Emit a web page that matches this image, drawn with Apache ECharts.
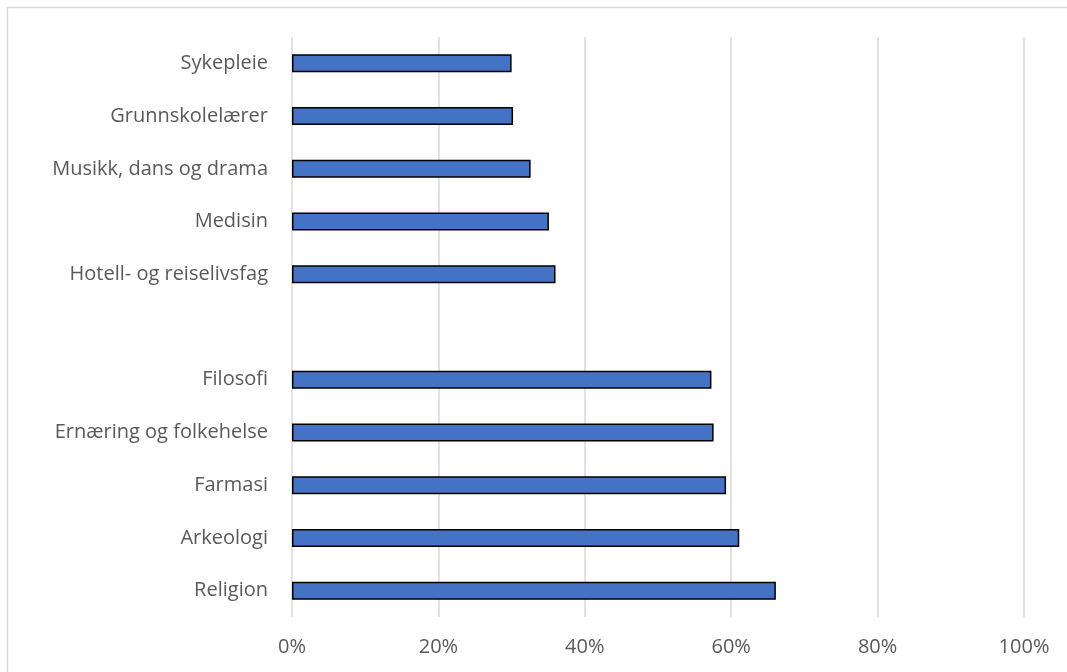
<!DOCTYPE html>
<html>
<head>
<meta charset="utf-8">
<script src="https://cdn.jsdelivr.net/npm/echarts@6/dist/echarts.min.js"></script>
<style>
  html, body { margin: 0; padding: 0; background: #fff; }
  #chart { width: 1067px; height: 672px; }
</style>
</head>
<body>
<div id="chart"></div>
<script>
// Categories top to bottom (blank row separates the two groups)
const categories = [
  'Sykepleie',
  'Grunnskolelærer',
  'Musikk, dans og drama',
  'Medisin',
  'Hotell- og reiselivsfag',
  '',
  'Filosofi',
  'Ernæring og folkehelse',
  'Farmasi',
  'Arkeologi',
  'Religion'
];
// Share (fraction), null for the blank separator row
const values = [0.300, 0.302, 0.326, 0.351, 0.360, null, 0.573, 0.576, 0.593, 0.611, 0.661];
const tickMin = 0, tickMax = 1, tickStep = 0.2;

const chart = echarts.init(document.getElementById('chart'), null, { renderer: 'canvas' });
const font = '"Open Sans", Lato, sans-serif';
chart.setOption({
  animation: false,
  backgroundColor: '#ffffff',
  graphic: [{
    type: 'rect',
    shape: { x: 7.5, y: 7.5, width: 1080, height: 700 },
    style: { fill: 'none', stroke: '#d9d9d9', lineWidth: 1.5 },
    silent: true
  }],
  grid: { left: 292, right: 43, top: 37, bottom: 55, containLabel: false },
  xAxis: {
    type: 'value',
    min: tickMin, max: tickMax, interval: tickStep,
    axisLine: { show: false },
    axisTick: { show: false },
    splitLine: { show: true, lineStyle: { color: '#d9d9d9', width: 1.5 } },
    axisLabel: {
      formatter: v => Math.round(v * 100) + '%',
      color: '#595959', fontSize: 20, fontFamily: font, margin: 20
    }
  },
  yAxis: {
    type: 'category',
    data: categories,
    inverse: true,
    axisLine: { show: false },
    axisTick: { show: false },
    splitLine: { show: false },
    axisLabel: { color: '#595959', fontSize: 20, fontFamily: font, margin: 24 }
  },
  series: [{
    type: 'bar',
    data: values,
    barWidth: 18,
    itemStyle: { color: '#4472c4', borderColor: '#000000', borderWidth: 1.5 }
  }]
});
</script>
</body>
</html>
